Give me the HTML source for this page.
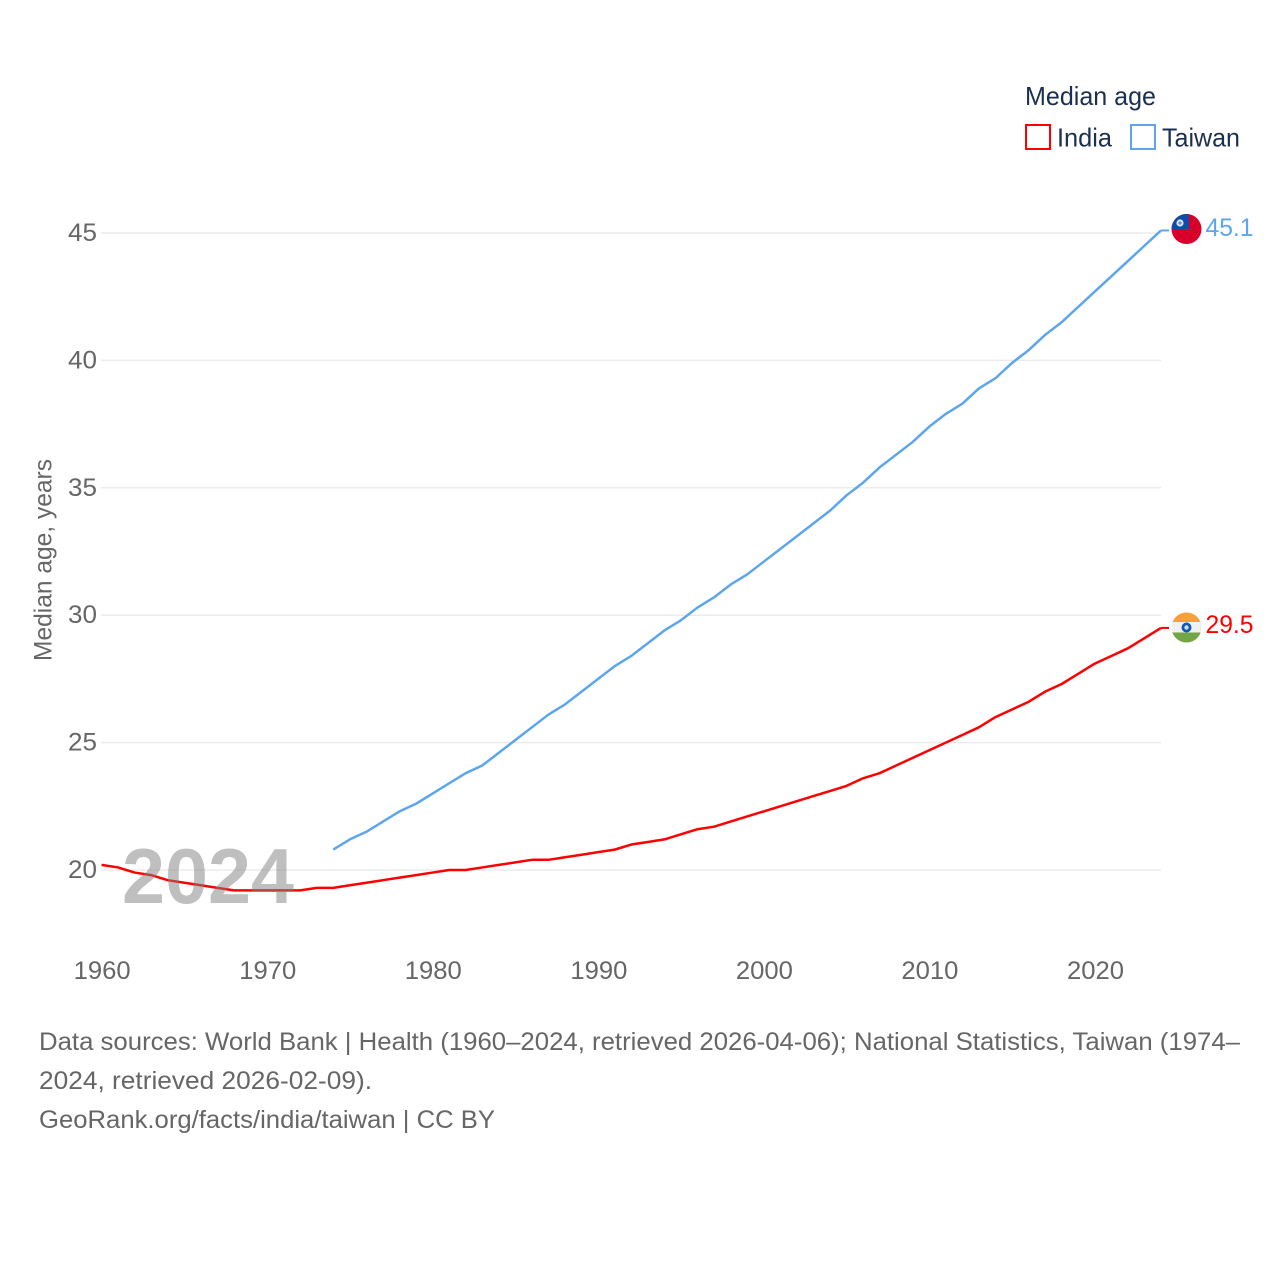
<!DOCTYPE html>
<html lang="en">
<head>
<meta charset="utf-8">
<title>Median age: India and Taiwan</title>
<style>
html,body{margin:0;padding:0;background:#fff;width:1280px;height:1280px;overflow:hidden}
svg{display:block;font-family:"Liberation Sans",sans-serif}
</style>
</head>
<body>
<svg id="chart" xmlns="http://www.w3.org/2000/svg" width="1280" height="1280" viewBox="0 0 1280 1280">
  <rect x="0" y="0" width="1280" height="1280" fill="#fff"/>
  <g id="grid"></g>
  <g id="yticks"></g>
  <g id="xticks"></g>
  <text transform="translate(51.5,661) rotate(-90)" font-size="25" fill="#666" textLength="202" lengthAdjust="spacingAndGlyphs">Median age, years</text>
  <g id="series"></g>
  <text x="122" y="903" font-size="78" font-weight="700" fill="#808080" fill-opacity="0.5" textLength="172" lengthAdjust="spacingAndGlyphs">2024</text>

  <g>
    <text x="1025" y="105" font-size="26" fill="#1b3050" textLength="131" lengthAdjust="spacingAndGlyphs">Median age</text>
    <g>
      <rect x="1026" y="125" width="24" height="24" fill="none" stroke="#ff0000" stroke-width="2"/>
      <text x="1057" y="146.5" font-size="26" fill="#1b3050" textLength="55" lengthAdjust="spacingAndGlyphs">India</text>
    </g>
    <g>
      <rect x="1131" y="125" width="24" height="24" fill="none" stroke="#5da5ed" stroke-width="2"/>
      <text x="1162" y="146.5" font-size="26" fill="#1b3050" textLength="78" lengthAdjust="spacingAndGlyphs">Taiwan</text>
    </g>
  </g>

  <defs>
    <clipPath id="clip-tw"><circle cx="1186.5" cy="229" r="15"/></clipPath>
    <clipPath id="clip-in"><circle cx="1186.5" cy="627.5" r="15"/></clipPath>
  </defs>
  <g clip-path="url(#clip-tw)">
    <rect x="1171" y="214" width="31" height="30" fill="#d8002a"/>
    <rect x="1171" y="214" width="18" height="15" fill="#0f4ba8"/>
    <circle cx="1180" cy="223" r="3.6" fill="#fff" opacity="0.85"/>
    <circle cx="1180" cy="223" r="1.6" fill="#5f8fd0"/>
  </g>
  <g clip-path="url(#clip-in)">
    <rect x="1171" y="612" width="31" height="11" fill="#f7a035"/>
    <rect x="1171" y="622" width="31" height="11" fill="#f0f0f0"/>
    <rect x="1171" y="632.5" width="31" height="11" fill="#72a545"/>
    <circle cx="1186.5" cy="627.5" r="5" fill="#1257b0"/>
    <circle cx="1186.5" cy="627.5" r="2.2" fill="#cfdcf0"/>
  </g>
  <text x="1205.5" y="236" font-size="25" fill="#5da5ed" textLength="48" lengthAdjust="spacingAndGlyphs">45.1</text>
  <text x="1205.5" y="633" font-size="25" fill="#ff0000" textLength="48" lengthAdjust="spacingAndGlyphs">29.5</text>

  <g font-size="25" fill="#666">
    <text x="39" y="1050" textLength="1201" lengthAdjust="spacingAndGlyphs">Data sources: World Bank | Health (1960–2024, retrieved 2026-04-06); National Statistics, Taiwan (1974–</text>
    <text x="39" y="1089" textLength="333" lengthAdjust="spacingAndGlyphs">2024, retrieved 2026-02-09).</text>
    <text x="39" y="1128" textLength="456" lengthAdjust="spacingAndGlyphs">GeoRank.org/facts/india/taiwan | CC BY</text>
  </g>
</svg>
<script>
const yTickValues = [20, 25, 30, 35, 40, 45];
const xTickValues = [1960, 1970, 1980, 1990, 2000, 2010, 2020];
const indiaStartYear = 1960;
const taiwanStartYear = 1974;
const indiaValues = [20.2,20.1,19.9,19.8,19.6,19.5,19.4,19.3,19.2,19.2,19.2,19.2,19.2,19.3,19.3,19.4,19.5,19.6,19.7,19.8,19.9,20.0,20.0,20.1,20.2,20.3,20.4,20.4,20.5,20.6,20.7,20.8,21.0,21.1,21.2,21.4,21.6,21.7,21.9,22.1,22.3,22.5,22.7,22.9,23.1,23.3,23.6,23.8,24.1,24.4,24.7,25.0,25.3,25.6,26.0,26.3,26.6,27.0,27.3,27.7,28.1,28.4,28.7,29.1,29.5];
const taiwanValues = [20.8,21.2,21.5,21.9,22.3,22.6,23.0,23.4,23.8,24.1,24.6,25.1,25.6,26.1,26.5,27.0,27.5,28.0,28.4,28.9,29.4,29.8,30.3,30.7,31.2,31.6,32.1,32.6,33.1,33.6,34.1,34.7,35.2,35.8,36.3,36.8,37.4,37.9,38.3,38.9,39.3,39.9,40.4,41.0,41.5,42.1,42.7,43.3,43.9,44.5,45.1];

const NS = 'http://www.w3.org/2000/svg';
const xScale = year => 101.5 + (year - 1960) * (1161 - 101.5) / 64;
const yScale = value => 870 - (value - 20) * (870 - 233) / 25;

function make(tag, attrs, text) {
  const el = document.createElementNS(NS, tag);
  for (const k in attrs) el.setAttribute(k, attrs[k]);
  if (text !== undefined) el.textContent = text;
  return el;
}

const grid = document.getElementById('grid');
const yticks = document.getElementById('yticks');
const xticks = document.getElementById('xticks');
const series = document.getElementById('series');

yTickValues.forEach(v => {
  const line = make('line', {x1: 101, x2: 1161, y1: yScale(v), y2: yScale(v), stroke: '#ebebeb', 'stroke-width': 1.5});
  
  
  grid.appendChild(line);
  const label = make('text', {x: 97, y: yScale(v) + 8, 'text-anchor': 'end', 'font-size': 25, fill: '#666', textLength: 29, lengthAdjust: 'spacingAndGlyphs'}, String(v));
  
  
  yticks.appendChild(label);
});

xTickValues.forEach(v => {
  const label = make('text', {x: xScale(v) + 0.7, y: 979, 'text-anchor': 'middle', 'font-size': 25, fill: '#666', textLength: 57, lengthAdjust: 'spacingAndGlyphs'}, String(v));
  
  
  xticks.appendChild(label);
});

function pathFor(values, startYear) {
  const pts = values.map((v, i) => xScale(startYear + i).toFixed(2) + ',' + yScale(v).toFixed(2));
  return 'M' + pts.join('L');
}

const indiaLine = make('path', {d: pathFor(indiaValues, indiaStartYear), fill: 'none', stroke: '#ff0000', 'stroke-width': 2.5, 'stroke-linejoin': 'round'});


series.appendChild(indiaLine);

const taiwanLine = make('path', {d: pathFor(taiwanValues, taiwanStartYear), fill: 'none', stroke: '#5da5ed', 'stroke-width': 2.5, 'stroke-linejoin': 'round'});


series.appendChild(taiwanLine);

const indiaEnd = yScale(indiaValues[indiaValues.length - 1]);
const indiaStub = make('line', {x1: 1161, x2: 1169, y1: indiaEnd, y2: indiaEnd, stroke: '#ff0000', 'stroke-width': 2});


series.appendChild(indiaStub);

const taiwanEnd = yScale(taiwanValues[taiwanValues.length - 1]);
const taiwanStub = make('line', {x1: 1161, x2: 1169, y1: taiwanEnd, y2: taiwanEnd, stroke: '#5da5ed', 'stroke-width': 2});


series.appendChild(taiwanStub);
</script>
</body>
</html>
